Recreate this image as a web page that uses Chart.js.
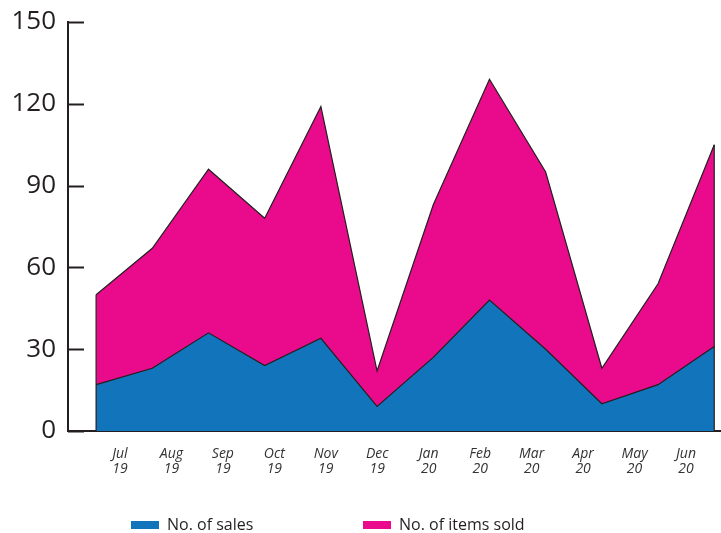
<!DOCTYPE html>
<html>
<head>
<meta charset="utf-8">
<script src="https://cdn.jsdelivr.net/npm/chart.js@4"></script>
<style>
  html, body { margin: 0; padding: 0; background: #fff; }
  #wrap { width: 721px; height: 533px; }
</style>
</head>
<body>
<div id="wrap"><canvas id="c" width="721" height="533"></canvas></div>
<script>
// data
const months = [['Jul', '19'], ['Aug', '19'], ['Sep', '19'], ['Oct', '19'], ['Nov', '19'], ['Dec', '19'],
                ['Jan', '20'], ['Feb', '20'], ['Mar', '20'], ['Apr', '20'], ['May', '20'], ['Jun', '20']];
const sales = [17, 23, 36, 24, 34, 9, 27, 48, 30, 10, 17, 31];
const itemsSold = [50, 67, 96, 78, 119, 22, 83, 129, 95, 23, 54, 105];
const yTicks = [0, 30, 60, 90, 120, 150];

const ink = '#231f20';
const blue = '#1274bb';
const pink = '#ea0b8c';

// inward y ticks, polygon side edges, bottom legend
const extras = {
  id: 'extras',
  afterDatasetsDraw(chart) {
    const ctx = chart.ctx, x = chart.scales.x, y = chart.scales.y;
    ctx.save();
    ctx.strokeStyle = ink;
    ctx.lineWidth = 1.2;
    [0, itemsSold.length - 1].forEach(i => {
      const px = x.getPixelForValue(i);
      ctx.beginPath();
      ctx.moveTo(px, y.getPixelForValue(itemsSold[i]));
      ctx.lineTo(px, y.getPixelForValue(0));
      ctx.stroke();
    });
    ctx.restore();
  },
  afterDraw(chart) {
    const ctx = chart.ctx, y = chart.scales.y, left = chart.chartArea.left;
    ctx.save();
    ctx.strokeStyle = ink;
    ctx.lineWidth = 2;
    yTicks.forEach(v => {
      const py = Math.round(y.getPixelForValue(v)) + 0.5;
      ctx.beginPath();
      ctx.moveTo(left, py);
      ctx.lineTo(left + 16, py);
      ctx.stroke();
    });
    // legend
    ctx.font = '16px "Open Sans"';
    ctx.textBaseline = 'middle';
    const starts = [131, 363];
    chart.data.datasets.forEach((ds, i) => {
      ctx.fillStyle = ds.backgroundColor;
      ctx.fillRect(starts[i], 521, 28, 8);
      ctx.fillStyle = ink;
      ctx.fillText(ds.label, starts[i] + 36, 525);
    });
    ctx.restore();
  }
};

new Chart(document.getElementById('c'), {
  type: 'line',
  data: {
    datasets: [
      {
        label: 'No. of sales',
        data: sales.map((v, i) => ({ x: i, y: v })),
        backgroundColor: blue,
        borderColor: ink,
        borderWidth: 1.2,
        fill: 'origin',
        pointRadius: 0,
        tension: 0
      },
      {
        label: 'No. of items sold',
        data: itemsSold.map((v, i) => ({ x: i, y: v })),
        backgroundColor: pink,
        borderColor: ink,
        borderWidth: 1.2,
        fill: 'origin',
        pointRadius: 0,
        tension: 0
      }
    ]
  },
  options: {
    responsive: false,
    animation: false,
    layout: { padding: { top: 22, left: 8, right: 0, bottom: 0 } },
    plugins: { legend: { display: false }, tooltip: { enabled: false } },
    scales: {
      x: {
        type: 'linear',
        position: 'bottom',
        min: -0.5,
        max: 11.12,
        grid: { display: false, drawTicks: false },
        border: { display: true, color: ink, width: 2 },
        ticks: { display: false },
        afterFit: s => { s.height = 0; }
      },
      xl: {
        type: 'linear',
        position: 'bottom',
        min: -1.01,
        max: 11.68,
        grid: { display: false, drawTicks: false },
        border: { display: false },
        afterBuildTicks: s => { s.ticks = months.map((_, i) => ({ value: i })); },
        ticks: {
          padding: 15,
          maxRotation: 0,
          autoSkip: false,
          color: '#333',
          font: { family: '"Open Sans"', size: 14, style: 'italic', lineHeight: 1.1 },
          callback: v => months[v] || ''
        },
        afterFit: s => { s.height = 102; s.paddingLeft = 0; s.paddingRight = 0; }
      },
      y: {
        min: 0,
        max: 150,
        grid: { display: false, drawTicks: false },
        border: { display: true, color: ink, width: 2 },
        afterBuildTicks: s => { s.ticks = yTicks.map(v => ({ value: v })); },
        ticks: {
          padding: 12,
          color: ink,
          font: { family: '"Open Sans"', size: 26 }
        },
        afterFit: s => { s.width = 60; s.paddingTop = 0; s.paddingBottom = 0; }
      }
    }
  },
  plugins: [extras]
});
</script>
</body>
</html>
